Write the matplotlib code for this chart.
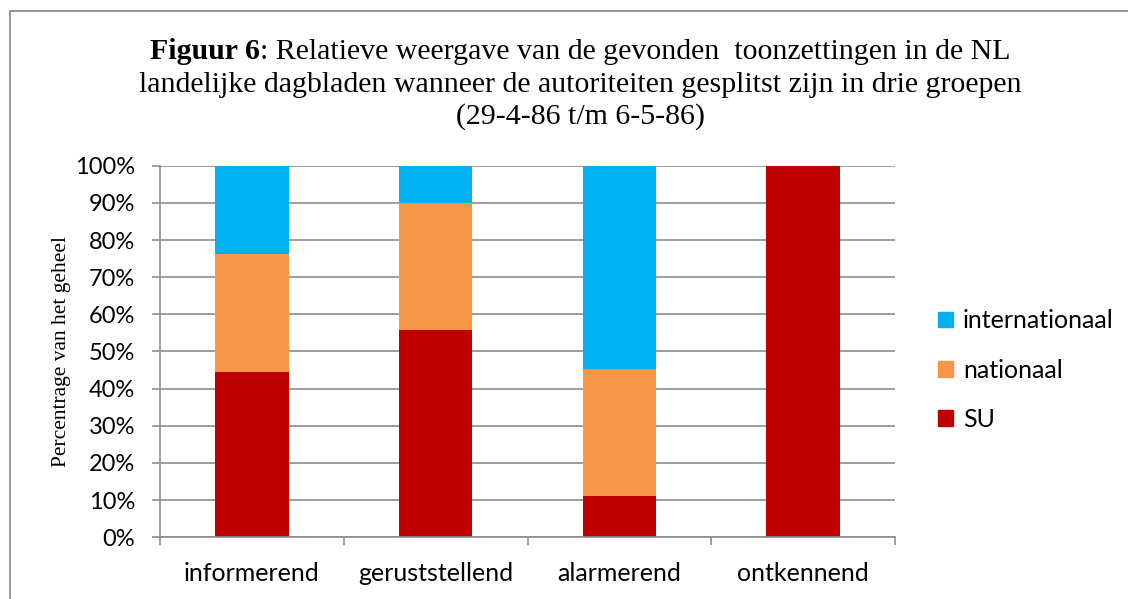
import matplotlib
matplotlib.use("Agg")
import matplotlib.pyplot as plt
from matplotlib.patches import Rectangle, Patch
import numpy as np

# --- data (aandeel per toonzetting, in %) ---
categories = ["informerend", "geruststellend", "alarmerend", "ontkennend"]
su = [44.6, 55.9, 11.2, 100.0]
nationaal = [31.6, 34.1, 34.1, 0.0]
internationaal = [23.8, 10.0, 54.7, 0.0]

COL_SU = "#C00000"
COL_NAT = "#F79646"
COL_INT = "#00B0F0"
GRID = "#8C8C8C"
SERIF = "Liberation Serif"
SANS = "Lato"

W, H = 1128, 599
fig = plt.figure(figsize=(W / 100, H / 100), dpi=100)
ax = fig.add_axes([160 / W, 1 - 537.3 / H, 735 / W, 371.6 / H])

x = np.arange(len(categories))
su_a, nat_a, int_a = np.array(su), np.array(nationaal), np.array(internationaal)
ax.bar(x, su_a, 0.4, color=COL_SU, zorder=2)
ax.bar(x, nat_a, 0.4, bottom=su_a, color=COL_NAT, zorder=2)
ax.bar(x, int_a, 0.4, bottom=su_a + nat_a, color=COL_INT, zorder=2)

ax.set_xlim(-0.5, len(categories) - 0.5)
ax.set_ylim(0, 100)
ax.set_yticks(np.arange(0, 101, 10))
ax.set_yticklabels([f"{v}%" for v in range(0, 101, 10)])
ax.yaxis.grid(True, color=GRID, linewidth=1.2, zorder=0)
ax.set_axisbelow(True)

# categorie-grenzen als ticks, labels in het midden
ax.set_xticks(np.arange(-0.5, len(categories), 1.0))
ax.set_xticklabels([])
ax.set_xticks(x, minor=True)
ax.set_xticklabels(categories, minor=True)
ax.tick_params(axis="x", which="minor", length=0, pad=18)
ax.tick_params(axis="both", which="major", length=6, width=1.2, color=GRID)
ax.tick_params(axis="y", pad=12)
for lab in ax.get_xticklabels(minor=True):
    lab.set_fontfamily(SANS)
    lab.set_fontsize(18)
for lab in ax.get_yticklabels():
    lab.set_fontfamily(SANS)
    lab.set_fontsize(17)

for s in ["top", "right"]:
    ax.spines[s].set_visible(False)
for s in ["left", "bottom"]:
    ax.spines[s].set_color(GRID)
    ax.spines[s].set_linewidth(1.2)

ax.set_ylabel("Percentrage van het geheel", family=SERIF, fontsize=15.5, labelpad=3)

# --- titel, eerste woorden vet ---
TS = 21.5
t_bold = "Figuur 6"
t_line1 = ": Relatieve weergave van de gevonden  toonzettingen in de NL"
t_line2 = "landelijke dagbladen wanneer de autoriteiten gesplitst zijn in drie groepen"
t_line3 = "(29-4-86 t/m 6-5-86)"
xc = 580
tb = fig.text(0, 1 - 59 / H, t_bold, family=SERIF, fontsize=TS, weight="bold",
              va="baseline")
tr = fig.text(0, 1 - 59 / H, t_line1, family=SERIF, fontsize=TS, va="baseline")
fig.canvas.draw()
wb = tb.get_window_extent().width
wr = tr.get_window_extent().width
x0 = xc - (wb + wr) / 2
tb.set_x(x0 / W)
tr.set_x((x0 + wb) / W)
fig.text(xc / W, 1 - 91.5 / H, t_line2, ha="center", va="baseline",
         family=SERIF, fontsize=TS)
fig.text(xc / W, 1 - 124 / H, t_line3, ha="center", va="baseline",
         family=SERIF, fontsize=TS)

handles = [Patch(color=COL_INT), Patch(color=COL_NAT), Patch(color=COL_SU)]
fig.legend(handles, ["internationaal", "nationaal", "SU"],
           loc="center left", bbox_to_anchor=(938 / W, 1 - 370 / H),
           frameon=False, prop={"family": SANS, "size": 18},
           handlelength=0.6, handleheight=0.6, handletextpad=0.4,
           labelspacing=1.05, borderpad=0, borderaxespad=0)

# kader rond de figuur (valt rechts/onder buiten beeld)
fig.patches.append(Rectangle((10 / W, -0.1), 1.2, 1 - 11 / H + 0.1,
                             transform=fig.transFigure, fill=False,
                             edgecolor=GRID, linewidth=1.3))

fig.savefig("out.png", dpi=100)
